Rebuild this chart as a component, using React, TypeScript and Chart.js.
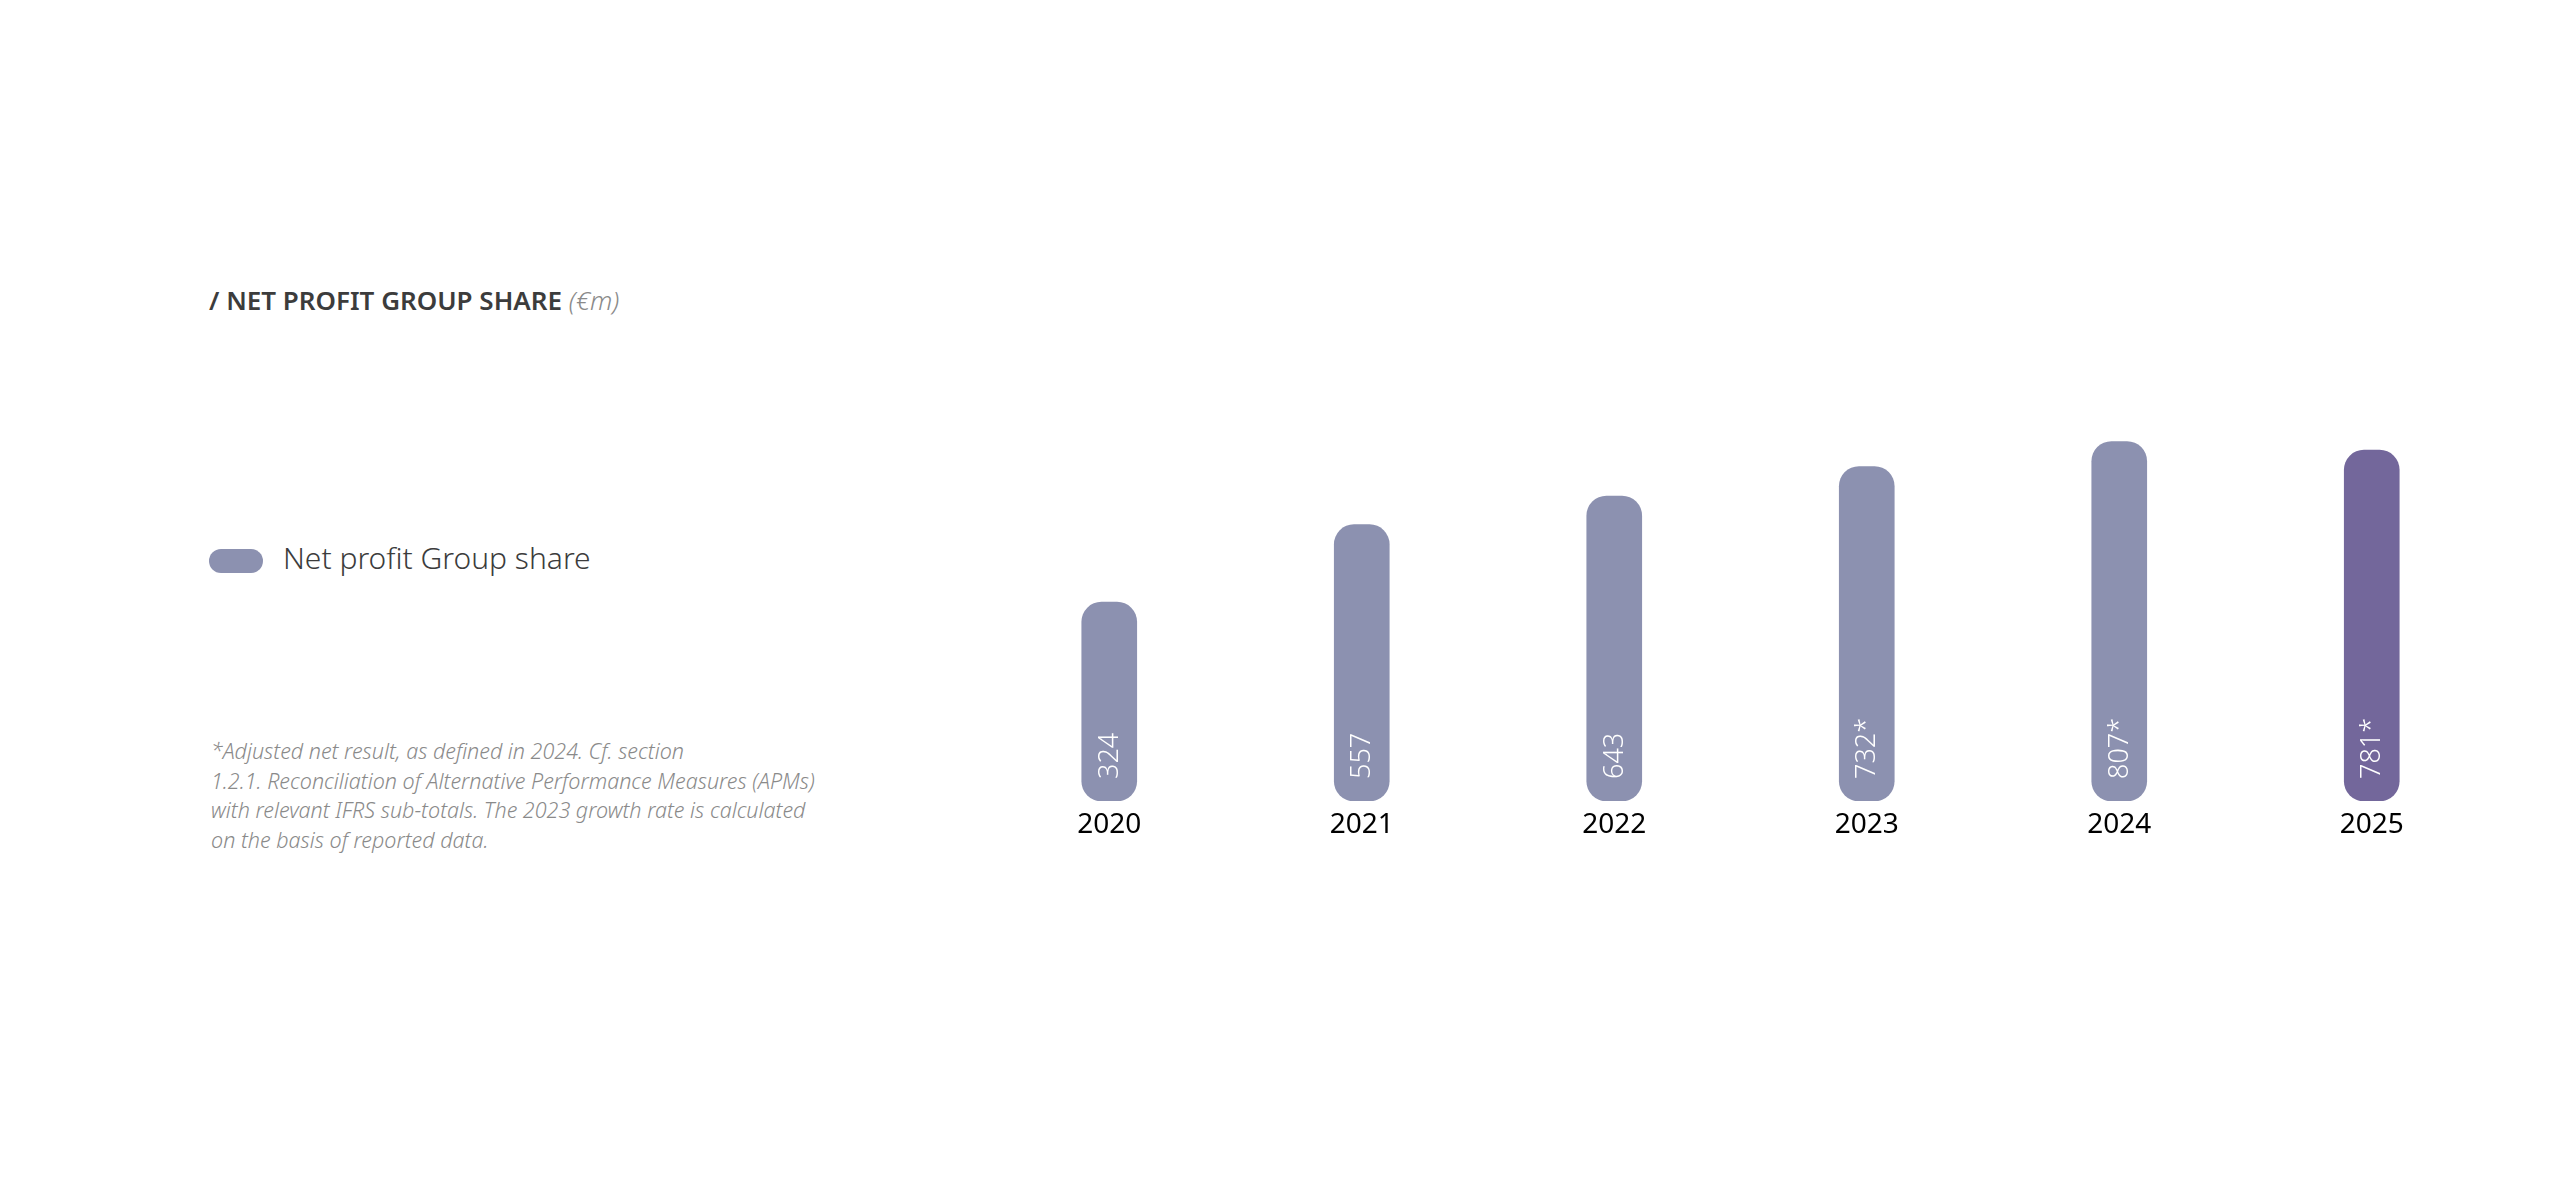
import React, { useEffect, useRef } from 'react';
import { Chart, registerables } from 'chart.js';

Chart.register(...registerables);

// ---- data ----
const categories = ['2020', '2021', '2022', '2023', '2024', '2025'];
const netProfit = [324, 557, 643, 732, 807, 781];
const adjustedFlags = [false, false, false, true, true, true];
const highlightFlags = [false, false, false, false, false, true];

const titleMain = '/ NET PROFIT GROUP SHARE';
const titleUnit = '(€m)';
const legendLabel = 'Net profit Group share';
const footnoteLines = [
  '*Adjusted net result, as defined in 2024. Cf. section',
  '1.2.1. Reconciliation of Alternative Performance Measures (APMs)',
  'with relevant IFRS sub-totals. The 2023 growth rate is calculated',
  'on the basis of reported data.',
];

// ---- scale / style ----
const AXIS_MIN = -274;
const AXIS_MAX = 992;
const BAR_COLOR = '#8c91b0';
const HIGHLIGHT_COLOR = '#73679b';
const FONT = '"Noto Sans", "Open Sans", sans-serif';

const insideLabels = {
  id: 'insideLabels',
  afterDatasetsDraw(chart: any) {
    const ctx = chart.ctx;
    const meta = chart.getDatasetMeta(0);
    meta.data.forEach((bar: any, i: number) => {
      const { x, base } = bar.getProps(['x', 'base'], true);
      ctx.save();
      ctx.translate(x, base - 22);
      ctx.rotate(-Math.PI / 2);
      ctx.font = `300 27px ${FONT}`;
      ctx.fillStyle = '#ffffff';
      ctx.textAlign = 'left';
      ctx.textBaseline = 'middle';
      ctx.fillText(String(netProfit[i]) + (adjustedFlags[i] ? '*' : ''), 0, 1);
      ctx.restore();
    });
  },
};

function BarChart() {
  const ref = useRef<HTMLCanvasElement | null>(null);
  useEffect(() => {
    if (!ref.current) return;
    const chart = new Chart(ref.current, {
      type: 'bar',
      data: {
        labels: categories,
        datasets: [
          {
            label: legendLabel,
            data: netProfit,
            base: AXIS_MIN,
            backgroundColor: highlightFlags.map((h) => (h ? HIGHLIGHT_COLOR : BAR_COLOR)),
            borderWidth: 0,
            borderRadius: 20,
            borderSkipped: false,
            barThickness: 55,
          } as any,
        ],
      },
      options: {
        animation: false,
        responsive: false,
        maintainAspectRatio: false,
        layout: { padding: 0 },
        plugins: {
          legend: { display: false },
          tooltip: { enabled: false },
          title: { display: false },
        },
        scales: {
          x: {
            grid: { display: false, drawTicks: false },
            border: { display: false },
            ticks: {
              color: '#000000',
              font: { family: FONT, size: 28 },
              padding: 7,
            },
            afterFit(axis: any) {
              axis.height = 60;
            },
          },
          y: {
            display: false,
            min: AXIS_MIN,
            max: AXIS_MAX,
          },
        },
      },
      plugins: [insideLabels],
    });
    return () => chart.destroy();
  }, []);
  return (
    <canvas
      ref={ref}
      width={1515}
      height={481}
      style={{ position: 'absolute', left: 983, top: 380, width: 1515, height: 481 }}
    />
  );
}

export default function App() {
  return (
    <div
      style={{
        position: 'absolute',
        left: 0,
        top: 0,
        width: 2561,
        height: 1192,
        background: '#ffffff',
        fontFamily: FONT,
      }}
    >
      <div
        style={{
          position: 'absolute',
          left: 209,
          top: 287,
          fontSize: 26,
          lineHeight: '26px',
          whiteSpace: 'nowrap',
        }}
      >
        <span style={{ fontWeight: 600, color: '#3c3c3c' }}>{titleMain}</span>{' '}
        <span style={{ fontStyle: 'italic', color: '#8a8a8a', fontWeight: 300 }}>{titleUnit}</span>
      </div>
      <div
        style={{
          position: 'absolute',
          left: 209,
          top: 549,
          width: 54,
          height: 24,
          borderRadius: 12,
          background: BAR_COLOR,
        }}
      />
      <div
        style={{
          position: 'absolute',
          left: 283,
          top: 543,
          fontSize: 30,
          lineHeight: '30px',
          fontWeight: 300,
          color: '#3c3c3c',
          whiteSpace: 'nowrap',
        }}
      >
        {legendLabel}
      </div>
      <div
        style={{
          position: 'absolute',
          left: 211,
          top: 736,
          fontSize: 21.5,
          lineHeight: '29.5px',
          fontStyle: 'italic',
          fontWeight: 300,
          color: '#8a8a8a',
          whiteSpace: 'nowrap',
        }}
      >
        {footnoteLines.map((l, i) => (
          <div key={i}>{l}</div>
        ))}
      </div>
      <BarChart />
    </div>
  );
}
